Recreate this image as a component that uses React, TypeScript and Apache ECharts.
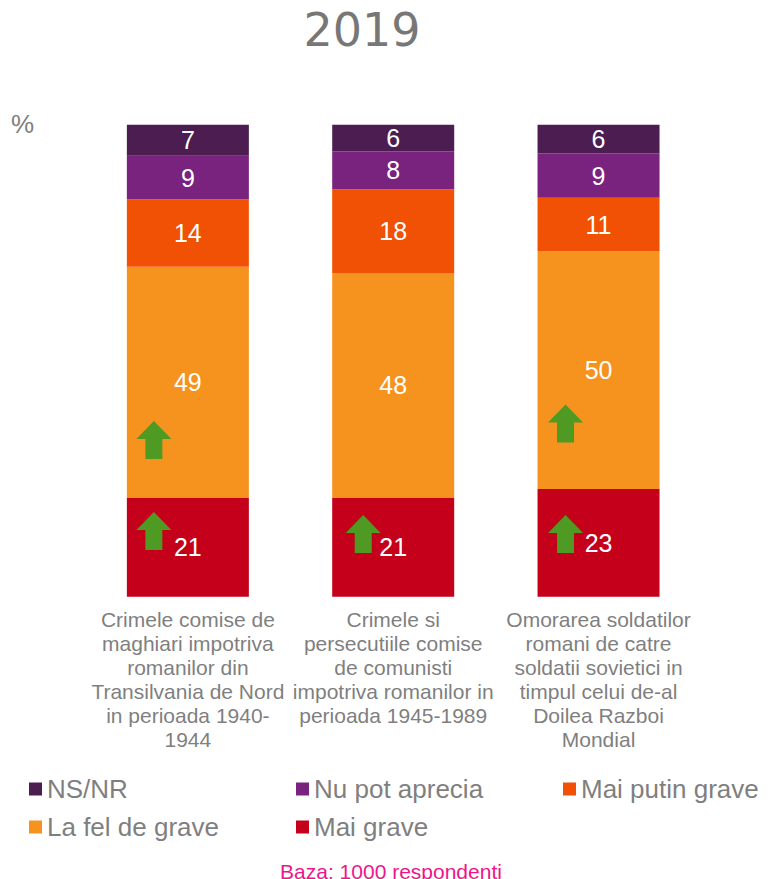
import React, { useEffect, useRef } from "react";
import * as echarts from "echarts";

const categories = [
  "Crimele comise de\nmaghiari impotriva\nromanilor din\nTransilvania de Nord\nin perioada 1940-\n1944",
  "Crimele si\npersecutiile comise\nde comunisti\nimpotriva romanilor in\nperioada 1945-1989",
  "Omorarea soldatilor\nromani de catre\nsoldatii sovietici in\ntimpul celui de-al\nDoilea Razboi\nMondial",
];

const seriesNames = ["Mai grave", "La fel de grave", "Mai putin grave", "Nu pot aprecia", "NS/NR"];
const maiGrave = [21.0, 21.0, 22.8];
const laFelDeGrave = [48.9, 47.5, 50.4];
const maiPutinGrave = [14.3, 17.8, 11.3];
const nuPotAprecia = [9.2, 8.0, 9.4];
const nsnr = [6.6, 5.7, 6.1];

// significant increase markers: [category index, value position]
const arrowCategory = [0, 0, 1, 2, 2];
const arrowValue = [13.9, 33.2, 13.3, 36.7, 13.3];

const colors = ["#C5001A", "#F6921E", "#F05104", "#7A237E", "#4B1D51"];
const FONT = "'Liberation Sans', Arial, sans-serif";
const arrowShiftX = [-34, -30, -33];
const ARROW = "path://M17.5,0 L35,18 L26,18 L26,38 L9,38 L9,18 L0,18 Z";

export default function App() {
  const ref = useRef<HTMLDivElement>(null);
  useEffect(() => {
    if (!ref.current) return;
    const chart = echarts.init(ref.current, null, { renderer: "svg" });
    const values = [maiGrave, laFelDeGrave, maiPutinGrave, nuPotAprecia, nsnr];
    const barSeries = seriesNames.map((name, i) => ({
      name,
      type: "bar",
      stack: "total",
      barWidth: 122,
      data: values[i],
      itemStyle: { color: colors[i] },
      label: {
        show: true,
        position: "inside",
        color: "#ffffff",
        fontSize: 25,
        fontFamily: FONT,
        formatter: (p: any) => String(Math.round(p.value)),
      },
      z: 2,
    }));
    const legendText = { color: "#7F7F7F", fontSize: 26, fontFamily: FONT, lineHeight: 24 };
    const mkLegend = (left: number, data: string[]) => ({
      orient: "vertical",
      left,
      top: 776,
      padding: 0,
      itemGap: 12,
      itemWidth: 13,
      itemHeight: 13,
      icon: "rect",
      data,
      textStyle: legendText,
      selectedMode: false,
    });
    chart.setOption({
      animation: false,
      grid: { left: 85.2, right: 70.8, top: 124.7, bottom: 282.3 },
      xAxis: {
        type: "category",
        data: categories,
        axisLine: { show: false },
        axisTick: { show: false },
        axisLabel: {
          interval: 0,
          margin: 11,
          color: "#7F7F7F",
          fontSize: 21,
          lineHeight: 24,
          fontFamily: FONT,
          verticalAlign: "top",
        },
      },
      yAxis: { type: "value", min: 0, max: 100, show: false, splitLine: { show: false } },
      legend: [
        mkLegend(29, ["NS/NR", "La fel de grave"]),
        mkLegend(296, ["Nu pot aprecia", "Mai grave"]),
        mkLegend(563, ["Mai putin grave"]),
      ],
      series: [
        ...barSeries,
        {
          name: "arrows",
          type: "scatter",
          symbol: ARROW,
          symbolSize: [35, 38],
          z: 5,
          itemStyle: { color: "#4E9A22", opacity: 1 },
          data: arrowCategory.map((c, i) => ({
            value: [c, arrowValue[i]],
            symbolOffset: [arrowShiftX[c], 0],
          })),
          silent: true,
        },
      ],
      graphic: [
        {
          type: "text",
          x: 362,
          y: 30,
          style: {
            text: "2019",
            fontSize: 46,
            fontFamily: "'DejaVu Sans', Verdana, sans-serif",
            fill: "#777777",
            textAlign: "center",
            textVerticalAlign: "middle",
          },
        },
        {
          type: "text",
          x: 11,
          y: 124,
          style: {
            text: "%",
            fontSize: 26,
            fontFamily: FONT,
            fill: "#7F7F7F",
            textAlign: "left",
            textVerticalAlign: "middle",
          },
        },
        {
          type: "text",
          x: 391,
          y: 871,
          style: {
            text: "Baza: 1000 respondenti",
            fontSize: 21,
            fontFamily: FONT,
            fill: "#F0148C",
            textAlign: "center",
            textVerticalAlign: "middle",
          },
        },
      ],
    });
    return () => chart.dispose();
  }, []);
  return (
    <div
      ref={ref}
      style={{ position: "fixed", left: 0, top: 0, width: 772, height: 879, background: "#ffffff" }}
    />
  );
}
